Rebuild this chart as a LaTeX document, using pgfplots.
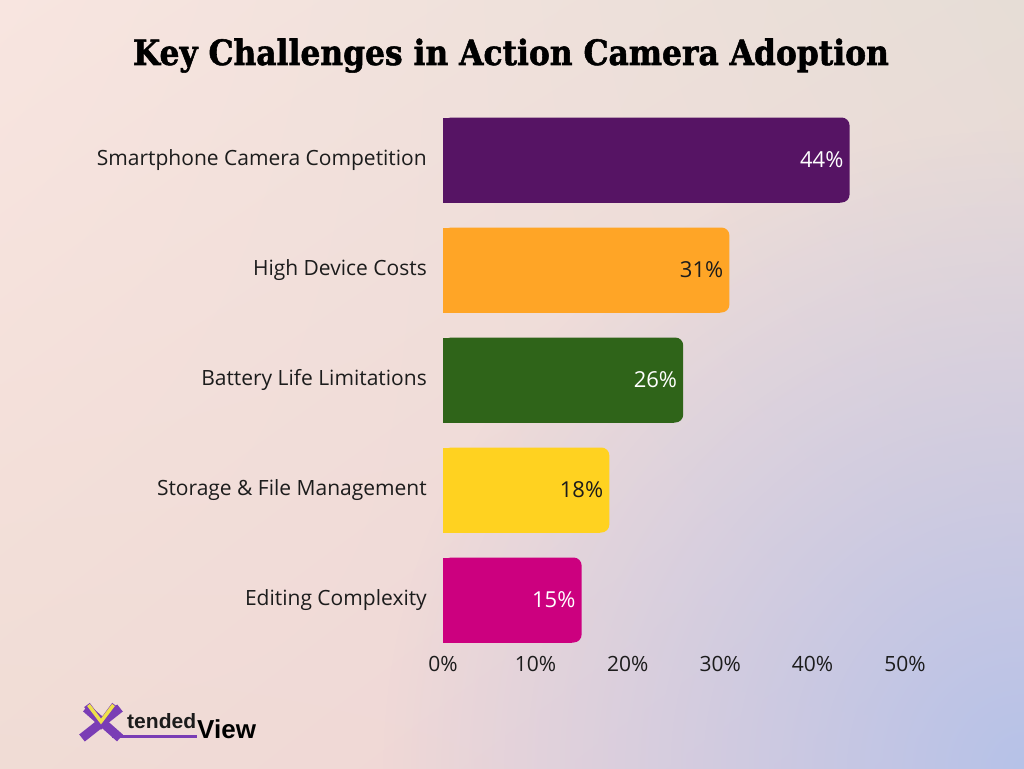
\documentclass[border=0pt]{standalone}
\usepackage{pgfplots}
\pgfplotsset{compat=1.18}
\usetikzlibrary{shadings,fadings}
\usepackage{graphicx}
\usepackage{fontspec}
\setmainfont{Open Sans}
\newfontfamily\titlefont{DejaVu Serif Condensed}[BoldFont={* Bold}, BoldFeatures={FakeBold=1.5}]
\newfontfamily\logofont{Liberation Sans}
\definecolor{bgTL}{HTML}{F8E5E0}
\definecolor{bgTR}{HTML}{E6DDD6}
\definecolor{bgBL}{HTML}{F0DCD5}
\definecolor{bgBR}{HTML}{F0D2D8}
\definecolor{bgBlue}{HTML}{B6C2E8}
\definecolor{cPurple}{HTML}{561464}
\definecolor{cOrange}{HTML}{FFA526}
\definecolor{cGreen}{HTML}{2F6419}
\definecolor{cYellow}{HTML}{FFD220}
\definecolor{cPink}{HTML}{CC007F}
\definecolor{txt}{HTML}{1C1C1C}
\definecolor{logoPurple}{HTML}{7A3DB5}
\definecolor{logoYellow}{HTML}{EEE14A}
\tikzfading[name=bluefade, inner color=transparent!0, outer color=transparent!100]
\pgfplotsset{
  barbase/.style={xbar, bar width=85pt, bar shift=0pt, draw=none, fill=#1},
  roundbar/.style={barbase=#1, rounded corners=8pt},
  squarebar/.style={barbase=#1, sharp corners, x filter/.expression={x-1}},
  lbl/.style={nodes near coords={\pgfmathprintnumber{\pgfplotspointmeta}\%},
    every node near coord/.append style={anchor=east, xshift=-6pt, inner sep=0pt,
      text=#1, font=\fontsize{22}{26}\selectfont, /pgf/number format/assume math mode=true}},
}
\begin{document}
\begin{tikzpicture}[x=1pt,y=1pt]
\shade[upper left=bgTL, upper right=bgTR, lower left=bgBL, lower right=bgBR] (0,0) rectangle (1024,768);
\begin{scope}
\clip (0,0) rectangle (1024,768);
\fill[bgBlue, path fading=bluefade] (1024,0) circle (640);
\end{scope}
\node[anchor=base, inner sep=0pt, text=black] at (511,703)
  {\resizebox{756pt}{!}{\titlefont\bfseries Key Challenges in Action Camera Adoption}};
\begin{axis}[
  at={(443pt,113pt)}, anchor=south west,
  width=462pt, height=550pt, scale only axis,
  xmin=0, xmax=50, ymin=-0.5, ymax=4.5, y dir=reverse,
  axis line style={draw=none}, major tick length=0pt, tick style={draw=none},
  clip=false,
  xtick={0,10,20,30,40,50},
  xticklabel={\pgfmathprintnumber{\tick}\%},
  ytick={0,1,2,3,4},
  yticklabels={Smartphone Camera Competition, High Device Costs, Battery Life Limitations, Storage \& File Management, Editing Complexity},
  ticklabel style={text=txt, inner sep=0pt},
  xticklabel style={anchor=north, yshift=-1pt, font=\fontsize{21}{25}\selectfont},
  yticklabel style={anchor=east, xshift=-16pt, font=\fontsize{21}{25}\selectfont},
  /pgf/number format/assume math mode=true,
]
\addplot[squarebar=cPurple] coordinates {(44,0)};
\addplot[roundbar=cPurple, lbl=white] coordinates {(44,0)};
\addplot[squarebar=cOrange] coordinates {(31,1)};
\addplot[roundbar=cOrange, lbl=txt] coordinates {(31,1)};
\addplot[squarebar=cGreen] coordinates {(26,2)};
\addplot[roundbar=cGreen, lbl=white] coordinates {(26,2)};
\addplot[squarebar=cYellow] coordinates {(18,3)};
\addplot[roundbar=cYellow, lbl=txt] coordinates {(18,3)};
\addplot[squarebar=cPink] coordinates {(15,4)};
\addplot[roundbar=cPink, lbl=white] coordinates {(15,4)};
\end{axis}
% logo
\draw[logoPurple, line width=2.5pt] (112,31.5) -- (197,31.5);
\draw[logoPurple, line width=9pt] (86,60) -- (120,30);
\draw[logoPurple, line width=9pt] (120,60) -- (82,30);
\draw[logoPurple, line width=7pt, line join=miter] (87,63) -- (101,44) -- (115,63);
\draw[logoYellow, line width=3.5pt, line join=miter] (88.5,63) -- (101,46.5) -- (113.5,63);
\node[anchor=base west, inner sep=0pt, text=txt] at (127,40) {\resizebox{69pt}{15pt}{\logofont\bfseries tended}};
\node[anchor=base west, inner sep=0pt, text=black] at (197,30) {\logofont\bfseries\fontsize{26}{28}\selectfont View};
\end{tikzpicture}
\end{document}
